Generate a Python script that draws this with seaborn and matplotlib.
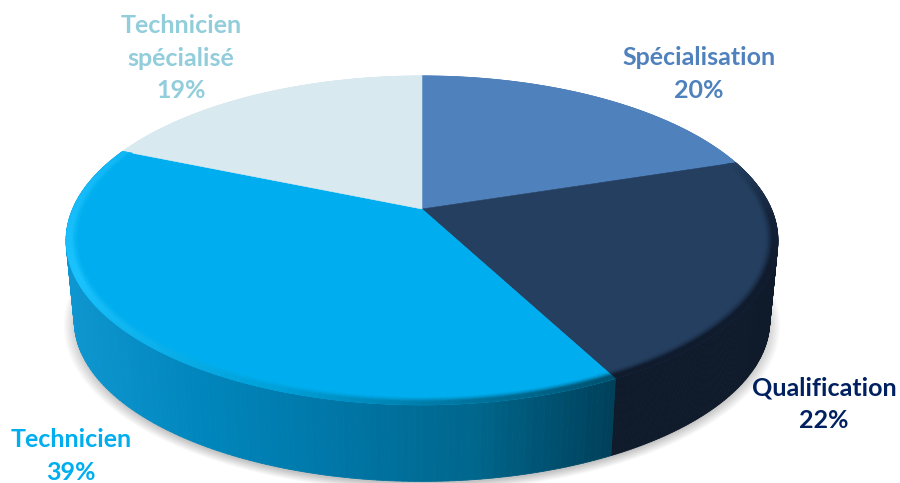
"""
3D looking pie chart: seaborn theme and palettes, matplotlib polygons.
"""

import numpy as np
import matplotlib
matplotlib.use('Agg')
import matplotlib.pyplot as plt
from matplotlib.collections import PolyCollection
import seaborn as sns

# Data (slice sizes, printed rounded)
labels = ['Spécialisation', 'Qualification', 'Technicien', 'Technicien\nspécialisé']
shares = [20.0, 22.4, 39.0, 18.6]

# Colours
top_colors = ['#4F81BD', '#243F60', '#00AEEF', '#D8E9F0']
text_colors = ['#4F81BD', '#002060', '#00AEEF', '#92CDDC']
wall_ramps = [['#4F81BD'], ['#0F1A2B'], ['#0E96D0', '#0086BC', '#0076A6', '#00668C', '#00405A'], ['#D8E9F0']]
rim_ramps = [None, ['#243F60', '#14233A', '#101B2D', '#101B2D', '#101B2D'],
             ['#00516F', '#00A0D8', '#1CC4FF', '#12B8F6'], None]

# Label anchors in pixels (centre of the text block)
label_x = [699, 824, 71, 181]
label_y = [74, 404, 456, 58]

# Projection settings of the disc (pixels)
CX, CY = 422, 209
RX, RY = 349.4, 158.5
TILT = 0.191
WALL_SCALE = 0.977
WALL_DROP = 81

sns.set_theme(style='white')
plt.rcParams['font.family'] = ['Lato', 'DejaVu Sans']


def project(theta, radius=1.0, scale=1.0, drop=0.0):
    """Map a disc point (clockwise angle from the top) to picture pixels."""
    u = radius * np.sin(theta)
    v = radius * np.cos(theta)
    w = 1 + TILT * v
    return CX + scale * RX * u / w, CY - scale * RY * v / w + drop


def strip_polys(thetas, r1=1.0, r2=1.0, drop2=0.0, scale2=1.0):
    """Quads between two curves, one quad per angle step."""
    x1, y1 = project(thetas, r1)
    x2, y2 = project(thetas, r2, scale2, drop2)
    return [[(x1[i], y1[i]), (x1[i + 1], y1[i + 1]), (x2[i + 1], y2[i + 1]), (x2[i], y2[i])]
            for i in range(len(thetas) - 1)]


fig = plt.figure(figsize=(9, 4.83), dpi=100)
ax = fig.add_axes([0, 0, 1, 1])
ax.set_xlim(0, 900)
ax.set_ylim(483, 0)
ax.axis('off')

edges = np.concatenate([[0], np.cumsum(shares)]) / np.sum(shares) * 2 * np.pi
wedges = [np.linspace(edges[i], edges[i + 1], 160) for i in range(len(shares))]

# Soft shadow under the pie
all_thetas = np.linspace(0, 2 * np.pi, 400)
for grow in np.linspace(1.03, 0.99, 12):
    sx, sy = project(all_thetas, 1.0, WALL_SCALE * grow, WALL_DROP + 4)
    ax.fill(sx, sy, color='black', alpha=0.018, lw=0)

# Side walls, gradient runs left to right across the wedge
for thetas, ramp in zip(wedges, wall_ramps):
    polys = strip_polys(thetas, drop2=WALL_DROP, scale2=WALL_SCALE)
    if len(ramp) == 1:
        cols = [ramp[0]] * len(polys)
    else:
        xs = project(thetas[:-1])[0]
        pal = sns.blend_palette(ramp, 120)
        idx = ((xs - xs.min()) / (xs.max() - xs.min()) * 119).astype(int)
        cols = [pal[i] for i in idx]
    ax.add_collection(PolyCollection(polys, facecolors=cols, edgecolors=cols, linewidths=0.6))

# Top faces
for thetas, color in zip(wedges, top_colors):
    x, y = project(thetas)
    ax.fill(np.r_[CX, x], np.r_[CY, y], color=color, lw=0.4)

# Bevel on the front edge of the top
rings = np.linspace(0.965, 1.0, 11)
for thetas, color, ramp in zip(wedges, top_colors, rim_ramps):
    if ramp is None:
        continue
    rim = np.array(sns.blend_palette(ramp, len(thetas) - 1))
    base = np.array(matplotlib.colors.to_rgb(color))
    for k in range(len(rings) - 1):
        mix = min(1.0, (k + 0.5) / 6.0) ** 1.5
        cols = base * (1 - mix) + rim * mix
        polys = strip_polys(thetas, rings[k], rings[k + 1])
        ax.add_collection(PolyCollection(polys, facecolors=cols, edgecolors=cols, linewidths=0.4))

# Labels
for name, share, x, y, color in zip(labels, shares, label_x, label_y, text_colors):
    ax.text(x, y, f'{name}\n{share:.0f}%', ha='center', va='center', color=color,
            fontsize=18, fontweight='bold', linespacing=1.5)

fig.savefig('out.png', dpi=100)
plt.close(fig)
